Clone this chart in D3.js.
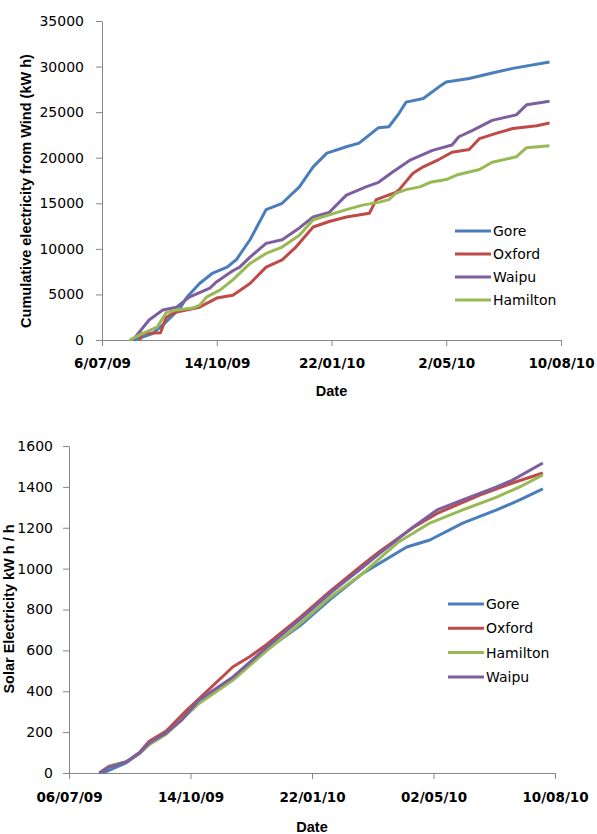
<!DOCTYPE html>
<html>
<head>
<meta charset="utf-8">
<script src="https://cdn.jsdelivr.net/npm/d3@7"></script>
<style>
  body { margin: 0; background: #fff; }
  svg { display: block; }
  .axis path, .axis line { stroke: #868686; }
  .axis text { fill: #000; font-family: "DejaVu Sans", sans-serif; }
  .ytick text { font-size: 14px; }
  .xtick text { font-size: 13.5px; font-weight: bold; }
  .title { font-family: "Liberation Sans", sans-serif; font-weight: bold; font-size: 14.5px; }
  .legend text { font-family: "DejaVu Sans", sans-serif; font-size: 14px; }
</style>
</head>
<body>
<svg id="chart" width="597" height="834"></svg>
<script>
//

const colors = { Gore: '#4a7ebb', Oxford: '#be4b48', Waipu: '#7d5fa0', Hamilton: '#98b954' }

// wind, cumulative kW h
const windGore = [['2009-08-03', 0], ['2009-08-19', 700], ['2009-08-31', 2000], ['2009-09-12', 3500], ['2009-09-18', 4700],
  ['2009-09-29', 6200], ['2009-10-10', 7300], ['2009-10-23', 8000], ['2009-10-31', 8800], ['2009-11-12', 11000],
  ['2009-11-26', 14300], ['2009-12-10', 15000],
  ['2009-12-25', 16800], ['2010-01-06', 19000], ['2010-01-18', 20500], ['2010-02-04', 21200], ['2010-02-15', 21600],
  ['2010-02-26', 22700], ['2010-03-04', 23300], ['2010-03-13', 23400], ['2010-03-22', 24900], ['2010-03-28', 26100],
  ['2010-04-12', 26500], ['2010-04-26', 27800], ['2010-05-02', 28300], ['2010-05-22', 28700], ['2010-06-11', 29300],
  ['2010-06-29', 29800], ['2010-07-31', 30500]]
const windOxford = [['2009-08-08', 0], ['2009-08-10', 700], ['2009-08-26', 800], ['2009-08-31', 2500], ['2009-09-07', 3000],
  ['2009-09-29', 3600], ['2009-10-14', 4600], ['2009-10-28', 4900], ['2009-11-12', 6200], ['2009-11-26', 8000],
  ['2009-12-10', 8800], ['2009-12-22', 10200], ['2010-01-06', 12400], ['2010-01-20', 13000], ['2010-02-04', 13500],
  ['2010-02-24', 13900], ['2010-03-02', 15400], ['2010-03-19', 16200], ['2010-03-22', 16500], ['2010-04-03', 18300],
  ['2010-04-12', 19000], ['2010-04-24', 19700], ['2010-05-07', 20600], ['2010-05-22', 20900], ['2010-05-31', 22100],
  ['2010-06-15', 22700], ['2010-06-29', 23200], ['2010-07-20', 23500], ['2010-07-31', 23800]]
const windWaipu = [['2009-08-02', 0], ['2009-08-16', 2200], ['2009-08-28', 3300], ['2009-09-09', 3600], ['2009-09-20', 4700],
  ['2009-10-08', 5700], ['2009-10-14', 6400], ['2009-10-28', 7600], ['2009-11-03', 8000], ['2009-11-12', 9100],
  ['2009-11-26', 10600], ['2009-12-10', 11000], ['2009-12-25', 12300],
  ['2010-01-06', 13500], ['2010-01-20', 14000], ['2010-02-04', 15900], ['2010-02-21', 16800], ['2010-03-04', 17300],
  ['2010-03-16', 18400], ['2010-03-31', 19700], ['2010-04-20', 20800], ['2010-05-07', 21400], ['2010-05-13', 22300],
  ['2010-05-25', 23000], ['2010-06-11', 24100], ['2010-07-02', 24700], ['2010-07-11', 25800], ['2010-07-31', 26200]]
const windHamilton = [['2009-07-30', 0], ['2009-08-10', 700], ['2009-08-23', 1400], ['2009-08-31', 3000], ['2009-09-09', 3300],
  ['2009-09-23', 3500], ['2009-09-29', 3800], ['2009-10-05', 4700], ['2009-10-17', 5500], ['2009-10-28', 6600],
  ['2009-11-12', 8400], ['2009-11-26', 9500],
  ['2009-12-10', 10200], ['2009-12-25', 11500], ['2010-01-06', 13200], ['2010-02-04', 14300], ['2010-02-18', 14800],
  ['2010-03-04', 15100], ['2010-03-13', 15400], ['2010-03-19', 16100], ['2010-03-28', 16500], ['2010-04-09', 16800],
  ['2010-04-18', 17300], ['2010-05-02', 17600], ['2010-05-11', 18100], ['2010-05-31', 18700], ['2010-06-11', 19500],
  ['2010-07-02', 20100], ['2010-07-11', 21100], ['2010-07-31', 21300]]

// solar, kW h / h
const solarGore = [['2009-08-03', 0], ['2009-08-22', 50], ['2009-09-02', 95], ['2009-09-10', 140], ['2009-09-24', 195],
  ['2009-10-21', 350], ['2009-11-18', 465], ['2009-12-16', 605], ['2010-01-12', 720], ['2010-02-06', 850],
  ['2010-03-05', 978], ['2010-04-10', 1106], ['2010-04-29', 1140], ['2010-05-26', 1223], ['2010-06-23', 1287],
  ['2010-07-12', 1336], ['2010-07-31', 1390]]
const solarOxford = [['2009-07-31', 0], ['2009-08-08', 30], ['2009-08-22', 54], ['2009-09-02', 100], ['2009-09-10', 155],
  ['2009-09-24', 205], ['2009-10-11', 308], ['2009-11-18', 520], ['2009-12-02', 570], ['2009-12-16', 630],
  ['2010-01-12', 760], ['2010-02-06', 890], ['2010-03-05', 1020], ['2010-03-19', 1085], ['2010-04-15', 1200],
  ['2010-05-05', 1270], ['2010-06-09', 1360], ['2010-07-06', 1419], ['2010-07-31', 1468]]
const solarHamilton = [['2009-07-31', 0], ['2009-08-08', 35], ['2009-08-22', 55], ['2009-09-02', 95], ['2009-09-10', 140],
  ['2009-09-24', 190], ['2009-10-21', 340], ['2009-11-18', 455], ['2009-12-16', 600], ['2010-01-12', 730],
  ['2010-02-06', 860], ['2010-03-05', 978], ['2010-04-02', 1125], ['2010-04-29', 1223], ['2010-05-26', 1287],
  ['2010-06-23', 1350], ['2010-07-12', 1400], ['2010-07-31', 1458]]
const solarWaipu = [['2009-07-31', 0], ['2009-08-08', 30], ['2009-08-22', 54], ['2009-09-02', 98], ['2009-09-10', 147],
  ['2009-09-24', 196], ['2009-10-07', 260], ['2009-10-21', 357], ['2009-11-18', 470], ['2009-12-16', 617],
  ['2010-01-12', 750], ['2010-02-06', 880], ['2010-03-05', 1008], ['2010-03-19', 1076], ['2010-04-15', 1203],
  ['2010-05-05', 1287], ['2010-05-26', 1336], ['2010-06-23', 1400], ['2010-07-06', 1433], ['2010-07-31', 1517]]

const dateTicks = ['2009-07-06', '2009-10-14', '2010-01-22', '2010-05-02', '2010-08-10']
const windDateLabels = ['6/07/09', '14/10/09', '22/01/10', '2/05/10', '10/08/10']
const solarDateLabels = ['06/07/09', '14/10/09', '22/01/10', '02/05/10', '10/08/10']
const windTicks = [0, 5000, 10000, 15000, 20000, 25000, 30000, 35000]
const solarTicks = [0, 200, 400, 600, 800, 1000, 1200, 1400, 1600]

//

const parse = d3.timeParse('%Y-%m-%d')
const svg = d3.select('#chart')

function drawChart (cfg) {
  const x = d3.scaleTime()
    .domain([parse(dateTicks[0]), parse(dateTicks[dateTicks.length - 1])])
    .range([cfg.left, cfg.right])
  const y = d3.scaleLinear()
    .domain([0, cfg.yTicks[cfg.yTicks.length - 1]])
    .range([cfg.bottom, cfg.top])

  const g = svg.append('g')

  g.append('g')
    .attr('class', 'axis ytick')
    .attr('transform', `translate(${cfg.left},0)`)
    .call(d3.axisLeft(y).tickValues(cfg.yTicks).tickSize(6).tickSizeOuter(0).tickPadding(cfg.yPad).tickFormat(d3.format('d')))

  const xLabels = new Map(dateTicks.map((d, i) => [+parse(d), cfg.xLabels[i]]))
  g.append('g')
    .attr('class', 'axis xtick')
    .attr('transform', `translate(0,${cfg.bottom})`)
    .call(d3.axisBottom(x).tickValues(dateTicks.map(parse)).tickSize(6).tickSizeOuter(0).tickPadding(cfg.xPad)
      .tickFormat((d) => xLabels.get(+d)))

  const line = d3.line()
    .x((d) => x(parse(d[0])))
    .y((d) => y(d[1]))

  g.selectAll('path.series')
    .data(cfg.series)
    .enter()
    .append('path')
    .attr('class', 'series')
    .attr('fill', 'none')
    .attr('stroke', (s) => colors[s.name])
    .attr('stroke-width', 3)
    .attr('stroke-linejoin', 'round')
    .attr('d', (s) => line(s.values))

  g.append('text')
    .attr('class', 'title')
    .attr('x', (cfg.left + cfg.right) / 2)
    .attr('y', cfg.dateY)
    .attr('text-anchor', 'middle')
    .text('Date')

  g.append('text')
    .attr('class', 'title')
    .attr('transform', `translate(${cfg.yTitleX},${cfg.yTitleY}) rotate(-90)`)
    .attr('text-anchor', 'middle')
    .attr('dy', '0.35em')
    .text(cfg.yTitle)

  const legend = g.append('g')
    .attr('class', 'legend')
    .selectAll('g')
    .data(cfg.series)
    .enter()
    .append('g')
    .attr('transform', (d, i) => `translate(${cfg.legX},${cfg.legY + i * cfg.legStep})`)

  legend.append('line')
    .attr('x1', 0).attr('x2', 36)
    .attr('stroke', (s) => colors[s.name])
    .attr('stroke-width', 3)

  legend.append('text')
    .attr('x', 38)
    .attr('dy', '0.35em')
    .text((s) => s.name)
}

drawChart({
  left: 102, right: 561, top: 21, bottom: 340,
  yTicks: windTicks, yPad: 12, xPad: 12,
  xLabels: windDateLabels,
  dateY: 396,
  yTitle: 'Cumulative electricity from Wind (kW h)', yTitleX: 26, yTitleY: 191,
  legX: 455, legY: 231, legStep: 23,
  series: [
    { name: 'Gore', values: windGore },
    { name: 'Oxford', values: windOxford },
    { name: 'Waipu', values: windWaipu },
    { name: 'Hamilton', values: windHamilton }
  ]
})

drawChart({
  left: 69, right: 555, top: 446, bottom: 773,
  yTicks: solarTicks, yPad: 10, xPad: 13,
  xLabels: solarDateLabels,
  dateY: 832,
  yTitle: 'Solar Electricity kW h / h', yTitleX: 9, yTitleY: 609,
  legX: 448, legY: 604, legStep: 24.3,
  series: [
    { name: 'Gore', values: solarGore },
    { name: 'Oxford', values: solarOxford },
    { name: 'Hamilton', values: solarHamilton },
    { name: 'Waipu', values: solarWaipu }
  ]
})
</script>
</body>
</html>
